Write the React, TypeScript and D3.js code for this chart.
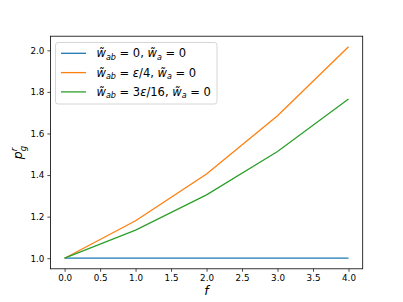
import React, { useRef, useEffect } from "react";
import * as d3 from "d3";

const fValues = [0, 1, 2, 3, 4];
const seriesZero = [1.0, 1.0, 1.0, 1.0, 1.0];
const seriesQuarter = [1.0, 1.18, 1.405, 1.685, 2.017];
const seriesThreeSixteenths = [1.0, 1.135, 1.305, 1.513, 1.766];
const xTicks = [0, 0.5, 1, 1.5, 2, 2.5, 3, 3.5, 4];
const yTicks = [1.0, 1.2, 1.4, 1.6, 1.8, 2.0];
const seriesColors = ["#1f77b4", "#ff7f0e", "#2ca02c"];
const legendParts = [
    { ab: "0", a: "0" },
    { ab: "ε/4", a: "0" },
    { ab: "3ε/16", a: "0" },
];

const W = 403;
const H = 302;
const margin = { left: 50.4, right: 40.3, top: 36.2, bottom: 33.2 };

const App: React.FC = () => {
    const svgRef = useRef<SVGSVGElement | null>(null);

    useEffect(() => {
        const svg = d3.select(svgRef.current);
        svg.selectAll("*").remove();
        svg.attr("width", W).attr("height", H);
        svg.append("rect").attr("width", W).attr("height", H).attr("fill", "#fff");

        const x = d3.scaleLinear().domain([-0.2, 4.2]).range([margin.left, W - margin.right]);
        const y = d3.scaleLinear().domain([0.9491, 2.0679]).range([H - margin.bottom, margin.top]);

        const font = "DejaVu Sans";
        const tickSize = 8.75;

        const xAxis = svg
            .append("g")
            .attr("transform", `translate(0,${H - margin.bottom})`)
            .call(d3.axisBottom(x).tickValues(xTicks).tickSize(3).tickPadding(3).tickFormat(d3.format(".1f")));
        const yAxis = svg
            .append("g")
            .attr("transform", `translate(${margin.left},0)`)
            .call(d3.axisLeft(y).tickValues(yTicks).tickSize(3).tickPadding(3).tickFormat(d3.format(".1f")));
        [xAxis, yAxis].forEach((a) => {
            a.select(".domain").remove();
            a.selectAll("text").attr("font-family", font).attr("font-size", tickSize).attr("fill", "#000");
            a.selectAll("line").attr("stroke", "#000").attr("stroke-width", 0.7);
        });

        const line = d3
            .line<number>()
            .x((_, i) => x(fValues[i]))
            .y((d) => y(d));

        [seriesZero, seriesQuarter, seriesThreeSixteenths].forEach((s, i) => {
            svg.append("path")
                .datum(s)
                .attr("fill", "none")
                .attr("stroke", seriesColors[i])
                .attr("stroke-width", 1.3)
                .attr("d", line);
        });

        svg.append("rect")
            .attr("x", margin.left)
            .attr("y", margin.top)
            .attr("width", W - margin.left - margin.right)
            .attr("height", H - margin.top - margin.bottom)
            .attr("fill", "none")
            .attr("stroke", "#000")
            .attr("stroke-width", 0.8);

        // axis labels
        svg.append("text")
            .attr("x", (margin.left + W - margin.right) / 2)
            .attr("y", 295)
            .attr("text-anchor", "middle")
            .attr("font-family", font)
            .attr("font-size", 12.5)
            .attr("font-style", "italic")
            .text("f");

        const yl = svg
            .append("text")
            .attr("transform", `translate(22,${(margin.top + H - margin.bottom) / 2}) rotate(-90)`)
            .attr("text-anchor", "middle")
            .attr("font-family", font)
            .attr("font-size", 12.5)
            .attr("font-style", "italic");
        yl.append("tspan").text("p");
        yl.append("tspan").attr("font-size", 8.5).attr("dy", -5).text("r");
        yl.append("tspan").attr("font-size", 8.5).attr("dx", -3.5).attr("dy", 8.5).text("g");

        // legend
        const lg = svg.append("g");
        lg.append("rect")
            .attr("x", 55.5)
            .attr("y", 42.5)
            .attr("width", 161.5)
            .attr("height", 61.5)
            .attr("rx", 2.5)
            .attr("fill", "#fff")
            .attr("fill-opacity", 0.8)
            .attr("stroke", "#ccc")
            .attr("stroke-width", 0.8);
        legendParts.forEach((p, i) => {
            const cy = 53.3 + i * 19.3;
            lg.append("line")
                .attr("x1", 61)
                .attr("x2", 86)
                .attr("y1", cy)
                .attr("y2", cy)
                .attr("stroke", seriesColors[i])
                .attr("stroke-width", 1.3);
            const t = lg
                .append("text")
                .attr("x", 96.5)
                .attr("y", cy + 4)
                .attr("font-family", font)
                .attr("font-size", 11.5);
            t.append("tspan").attr("font-style", "italic").text("w\u0303");
            t.append("tspan").attr("font-style", "italic").attr("font-size", 8).attr("dy", 2.5).text("ab");
            t.append("tspan").attr("dy", -2.5).text(" = ");
            if (p.ab.includes("ε")) {
                const parts = p.ab.split("ε");
                t.append("tspan").text(parts[0]);
                t.append("tspan").attr("font-style", "italic").text("ε");
                t.append("tspan").text(parts[1] + ", ");
            } else {
                t.append("tspan").text(p.ab + ", ");
            }
            t.append("tspan").attr("font-style", "italic").text("w\u0303");
            t.append("tspan").attr("font-style", "italic").attr("font-size", 8).attr("dy", 2.5).text("a");
            t.append("tspan").attr("dy", -2.5).text(" = " + p.a);
        });

        return () => {
            svg.selectAll("*").remove();
        };
    }, []);

    return <svg ref={svgRef} style={{ position: "absolute", left: 0, top: 0, display: "block" }}></svg>;
};

export default App;
